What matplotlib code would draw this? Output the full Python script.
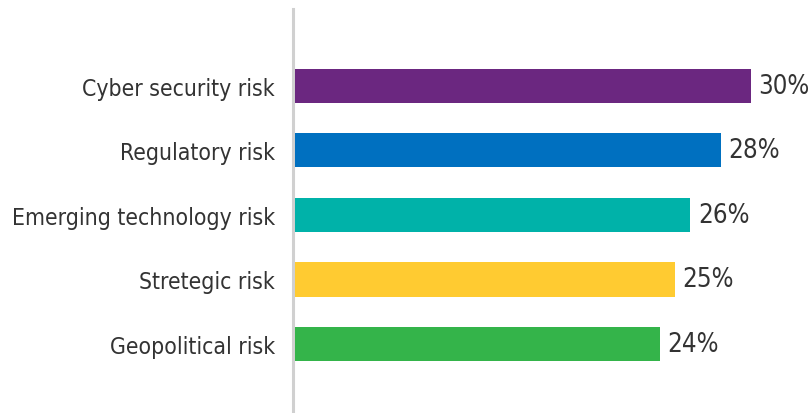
import matplotlib
matplotlib.use("Agg")
import matplotlib.pyplot as plt
from matplotlib import font_manager

# data
categories = ["Cyber security risk", "Regulatory risk", "Emerging technology risk",
              "Stretegic risk", "Geopolitical risk"]
values = [30, 28, 26, 25, 24]
colors = ["#6B2780", "#0070C0", "#00B2A9", "#FFCB31", "#34B44A"]

# pick a narrow font if one is installed
names = {f.name for f in font_manager.fontManager.ttflist}
font = "DejaVu Sans"
stretch = "normal"
if "Liberation Sans Narrow" in names:
    font = "Liberation Sans Narrow"
elif any(f.name == "DejaVu Sans" and f.stretch == "condensed" for f in font_manager.fontManager.ttflist):
    stretch = "condensed"

text_color = "#333333"

fig = plt.figure(figsize=(8.09, 4.14), dpi=100)
ax = fig.add_axes([295 / 809, 0, 514 / 809, 404 / 414])

# spine first: set_position resets the ticks
for s in ["top", "right", "bottom"]:
    ax.spines[s].set_visible(False)
ax.spines["left"].set_color("#d0d0d0")
ax.spines["left"].set_linewidth(2.2)
ax.spines["left"].set_position(("outward", 1.5))

y = list(range(len(categories)))
ax.barh(y, values, height=0.53, color=colors, zorder=3)

for yi, v in zip(y, values):
    ax.text(v + 0.5, yi, f"{v}%", va="center", ha="left", fontsize=18.5,
            family=font, stretch=stretch, color=text_color)

ax.tick_params(axis="y", length=0, pad=13)
ax.set_yticks(y)
ax.set_yticklabels(categories, fontsize=16.5, family=font, stretch=stretch, color=text_color)
ax.set_xticks([])
ax.set_xlim(0, 514 / 15.2)
ax.set_ylim(5.07, -1.19)

fig.savefig("out.png", dpi=100)
